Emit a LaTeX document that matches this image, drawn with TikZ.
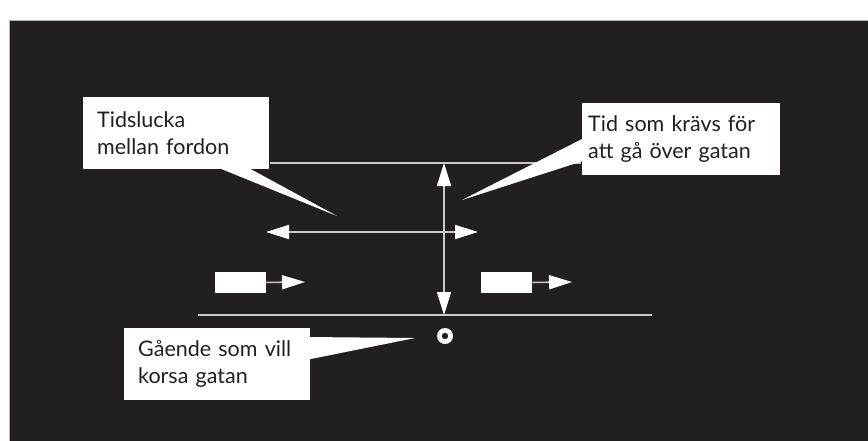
\documentclass[tikz,border=0pt]{standalone}
\usepackage{fontspec}
\setmainfont{Lato}
\usetikzlibrary{arrows.meta}
\definecolor{bg}{HTML}{231F20}
\definecolor{ln}{RGB}{200,200,200}
\tikzset{
  callout/.style={fill=white, draw=none, text=bg, align=left, anchor=north west,
    font=\fontsize{21.5}{27}\selectfont, inner ysep=0pt},
  road/.style={draw=ln, line width=1.6pt},
  shaft/.style={draw=ln, line width=1.6pt},
  head/.style={-{Triangle[length=23pt,width=14pt,fill=white,color=white]}},
  dhead/.style={{Triangle[length=23pt,width=14pt,fill=white,color=white]}-{Triangle[length=23pt,width=14pt,fill=white,color=white]}},
  car/.style={fill=white, draw=none, minimum width=51pt, minimum height=20.5pt, inner sep=0pt, anchor=north west},
}
\begin{document}
\begin{tikzpicture}[x=1pt,y=-1pt]
\useasboundingbox (0,0) rectangle (868,440);
\fill[white] (0,0) rectangle (868,440);
\draw[fill=bg, draw=gray!60, line width=0.8pt] (9,20) rectangle (869,441);

% roads
\coordinate (tl1) at (270,163);
\coordinate (tl2) at (581,163);
\coordinate (bl1) at (198,315);
\coordinate (bl2) at (652,315);
\draw[road] (tl1) -- (tl2);
\draw[road] (bl1) -- (bl2);

% vertical double arrow
\coordinate (vt) at (444,163);
\coordinate (vb) at (444,315);
\draw[shaft,dhead] (vt) -- (vb);

% horizontal double arrow
\coordinate (hl) at (266,232);
\coordinate (hr) at (478,232);
\draw[shaft,dhead] (hl) -- (hr);

% cars
\node[car] (car1) at (215,272) {};
\node[car] (car2) at (481,272) {};
\coordinate (c1t) at (305,282);
\coordinate (c2t) at (572,282);
\draw[shaft,head] (car1.east) -- (c1t);
\draw[shaft,head] (car2.east) -- (c2t);

% pedestrian
\node[circle, fill=white, minimum size=16pt, inner sep=0pt] (ped) at (445,336) {};
\fill[bg] (ped.center) circle (3.2);

% wedges
\fill[white] (214,166) -- (337,216) -- (245,166) -- cycle;
\fill[white] (586,137) -- (462,200) -- (586,160) -- cycle;
\fill[white] (306,337) -- (415,338) -- (306,360) -- cycle;

% callout boxes
\node[callout, text width=158pt, inner xsep=14pt, minimum height=72pt] (gap) at (83,97)
  {Tidslucka\\mellan fordon};
\node[callout, text width=186pt, inner xsep=6pt, minimum height=72pt] (need) at (582,103)
  {Tid som krävs för\\att gå över gatan};
\node[callout, text width=158pt, inner xsep=14pt, minimum height=72pt] (walk) at (124,328)
  {Gående som vill\\korsa gatan};
\end{tikzpicture}
\end{document}
